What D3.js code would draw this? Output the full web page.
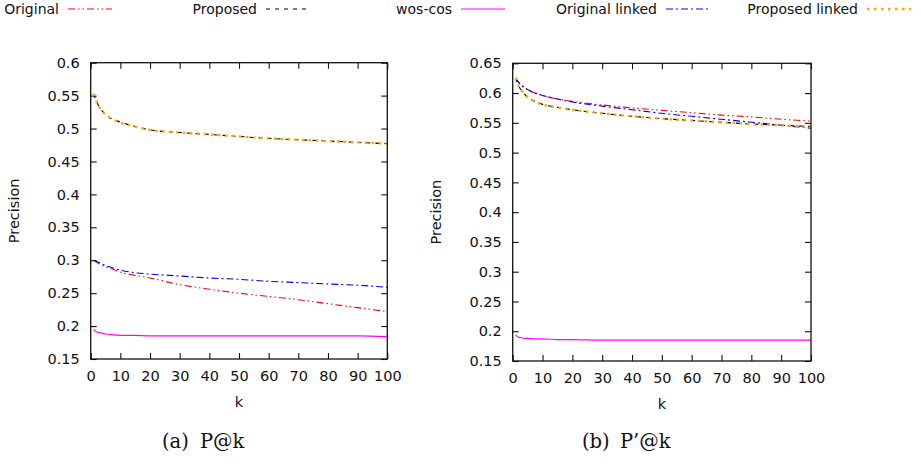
<!DOCTYPE html>
<html>
<head>
<meta charset="utf-8">
<script src="https://cdn.jsdelivr.net/npm/d3@7"></script>
<style>
  body { margin: 0; background: #fff; }
  svg text { font-family: "DejaVu Sans", sans-serif; fill: #111; }
</style>
</head>
<body>
<svg width="921" height="466"></svg>
<script>
// k values
const kVals = [1, 2, 3, 4, 5, 7, 10, 15, 20, 30, 40, 50, 60, 70, 80, 90, 100];

// (a) P@k
const origA       = [0.300, 0.297, 0.294, 0.292, 0.290, 0.287, 0.282, 0.277, 0.273, 0.263, 0.256, 0.250, 0.245, 0.240, 0.234, 0.228, 0.222];
const propA       = [0.552, 0.541, 0.532, 0.526, 0.521, 0.515, 0.510, 0.503, 0.498, 0.494, 0.491, 0.488, 0.485, 0.483, 0.481, 0.479, 0.477];
const wosA        = [0.195, 0.191, 0.190, 0.189, 0.188, 0.187, 0.186, 0.186, 0.185, 0.185, 0.185, 0.185, 0.185, 0.185, 0.185, 0.185, 0.184];
const origLinkedA = [0.300, 0.298, 0.296, 0.294, 0.292, 0.289, 0.285, 0.281, 0.279, 0.276, 0.273, 0.271, 0.268, 0.266, 0.264, 0.262, 0.259];
const propLinkedA = [0.553, 0.541, 0.532, 0.526, 0.521, 0.515, 0.509, 0.503, 0.498, 0.494, 0.491, 0.488, 0.485, 0.483, 0.481, 0.479, 0.477];

// (b) P'@k
const origB       = [0.625, 0.618, 0.613, 0.609, 0.606, 0.601, 0.596, 0.590, 0.586, 0.580, 0.575, 0.571, 0.567, 0.563, 0.560, 0.556, 0.553];
const propB       = [0.625, 0.612, 0.604, 0.598, 0.593, 0.587, 0.581, 0.576, 0.572, 0.566, 0.561, 0.557, 0.554, 0.551, 0.548, 0.546, 0.544];
const wosB        = [0.194, 0.190, 0.189, 0.188, 0.188, 0.187, 0.187, 0.186, 0.186, 0.185, 0.185, 0.185, 0.185, 0.185, 0.185, 0.185, 0.185];
const origLinkedB = [0.625, 0.618, 0.613, 0.609, 0.606, 0.601, 0.596, 0.590, 0.585, 0.578, 0.572, 0.566, 0.561, 0.556, 0.551, 0.546, 0.541];
const propLinkedB = [0.626, 0.612, 0.604, 0.598, 0.593, 0.587, 0.581, 0.576, 0.572, 0.566, 0.561, 0.557, 0.554, 0.551, 0.548, 0.546, 0.543];

const seriesNames = ["Original", "Proposed", "wos-cos", "Original linked", "Proposed linked"];
const xTicks = [0, 10, 20, 30, 40, 50, 60, 70, 80, 90, 100];
const yTicksA = [0.15, 0.2, 0.25, 0.3, 0.35, 0.4, 0.45, 0.5, 0.55, 0.6];
const yTicksB = [0.15, 0.2, 0.25, 0.3, 0.35, 0.4, 0.45, 0.5, 0.55, 0.6, 0.65];

const styles = [
  { color: "#ff0000", dash: "7,3,1.5,3,1.5,3", width: 1.1 },
  { color: "#000000", dash: "4,5", width: 1.1 },
  { color: "#ff00ff", dash: null, width: 1.2 },
  { color: "#0000ff", dash: "7,3,2,3", width: 1.1 },
  { color: "#ffa500", dash: "2.5,4.5", width: 2.4 }
];

const svg = d3.select("svg");

const panels = [
  { left: 90.7, top: 62.7, right: 387.3, bottom: 359, yMax: 0.6, yTicks: yTicksA,
    series: [origA, propA, wosA, origLinkedA, propLinkedA], tag: "(a)", name: "P@k", capX: 162, ylabX: 14 },
  { left: 512.7, top: 63.3, right: 811, bottom: 361, yMax: 0.65, yTicks: yTicksB,
    series: [origB, propB, wosB, origLinkedB, propLinkedB], tag: "(b)", name: "P\u2019@k", capX: 582, ylabX: 436 }
];

panels.forEach(p => {
  const x = d3.scaleLinear().domain([0, 100]).range([p.left, p.right]);
  const y = d3.scaleLinear().domain([0.15, p.yMax]).range([p.bottom, p.top]);
  const g = svg.append("g");

  // bottom and top axes, ticks pointing inward
  g.append("g").attr("transform", `translate(0,${p.bottom})`)
    .call(d3.axisBottom(x).tickValues(xTicks).tickFormat(d3.format("d")).tickSize(-6).tickPadding(12))
    .call(a => a.select(".domain").remove())
    .call(a => a.selectAll("text").attr("font-size", 14.5).attr("font-family", "DejaVu Sans").attr("fill", "#111"));
  g.append("g").attr("transform", `translate(0,${p.top})`)
    .call(d3.axisTop(x).tickValues(xTicks).tickSize(-6).tickFormat(""))
    .call(a => a.select(".domain").remove());

  // left and right axes
  g.append("g").attr("transform", `translate(${p.left},0)`)
    .call(d3.axisLeft(y).tickValues(p.yTicks).tickFormat(d3.format("")).tickSize(-6).tickPadding(11))
    .call(a => a.select(".domain").remove())
    .call(a => a.selectAll("text").attr("font-size", 14.5).attr("font-family", "DejaVu Sans").attr("fill", "#111"));
  g.append("g").attr("transform", `translate(${p.right},0)`)
    .call(d3.axisRight(y).tickValues(p.yTicks).tickSize(-6).tickFormat(""))
    .call(a => a.select(".domain").remove());

  g.selectAll(".tick line").attr("stroke", "#111").attr("stroke-width", 1.1);

  const line = d3.line()
    .x((d, i) => x(kVals[i]))
    .y(d => y(d))
    .curve(d3.curveMonotoneX);

  p.series.forEach((vals, i) => {
    const s = styles[i];
    g.append("path")
      .attr("d", line(vals))
      .attr("fill", "none")
      .attr("stroke", s.color)
      .attr("stroke-width", s.width)
      .attr("stroke-dasharray", s.dash);
  });

  g.append("rect")
    .attr("x", p.left).attr("y", p.top)
    .attr("width", p.right - p.left).attr("height", p.bottom - p.top)
    .attr("fill", "none").attr("stroke", "#111").attr("stroke-width", 1.3);

  g.append("text")
    .attr("x", (p.left + p.right) / 2).attr("y", p.bottom + 48)
    .attr("text-anchor", "middle").attr("font-size", 14.5).text("k");

  g.append("text")
    .attr("transform", `translate(${p.ylabX},${(p.top + p.bottom) / 2}) rotate(-90)`)
    .attr("text-anchor", "middle").attr("dy", "0.35em").attr("font-size", 14.5).text("Precision");

  // sub-caption: tag, wide gap, then name
  const cap = g.append("text")
    .attr("y", 448)
    .style("font-family", "'DejaVu Serif', serif")
    .attr("font-size", 19.5);
  cap.append("tspan").attr("x", p.capX).text(p.tag);
  cap.append("tspan").attr("x", p.capX + 38).text(p.name);
});

// legend across the top
const legendTextEnd = [59, 257, 452, 657, 858];
const legend = svg.append("g");
seriesNames.forEach((name, i) => {
  const s = styles[i];
  legend.append("text")
    .attr("x", legendTextEnd[i]).attr("y", 9).attr("dy", "0.35em")
    .attr("text-anchor", "end").attr("font-size", 14).text(name);
  legend.append("line")
    .attr("x1", legendTextEnd[i] + 9).attr("x2", legendTextEnd[i] + 53)
    .attr("y1", 9).attr("y2", 9)
    .attr("stroke", s.color).attr("stroke-width", s.width)
    .attr("stroke-dasharray", s.dash);
});
</script>
</body>
</html>
